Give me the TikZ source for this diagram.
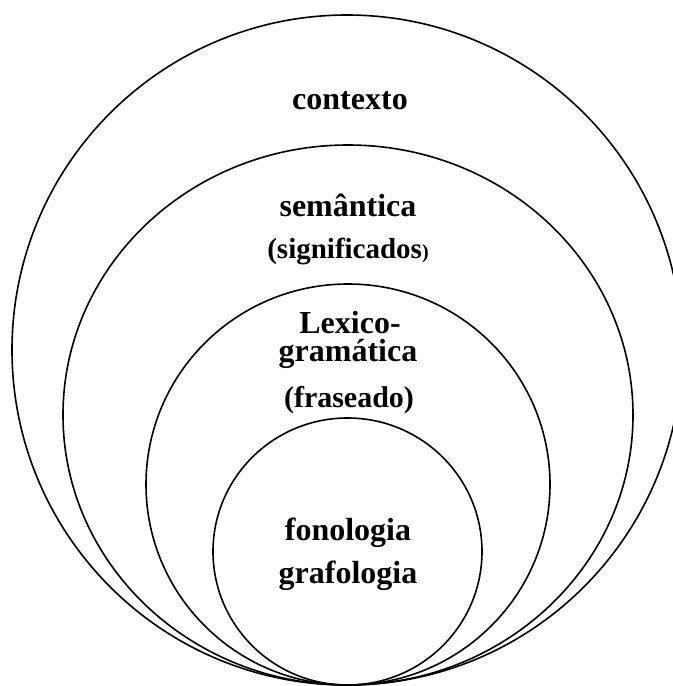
\documentclass[tikz,border=0pt]{standalone}
\usepackage{fontspec}
\setmainfont{Liberation Serif}
\begin{document}
\begin{tikzpicture}[x=1bp,y=-1bp,
  ring/.style={draw=black,line width=1.6bp},
  lbl/.style={anchor=base,inner sep=0pt,font=\fontsize{32bp}{38bp}\selectfont\bfseries},
  sub/.style={lbl,font=\fontsize{30bp}{36bp}\selectfont\bfseries}]
\useasboundingbox (0,0) rectangle (673,686);
\clip (0,0) rectangle (673,686);
\fill[white] (0,0) rectangle (673,686);
% rings, all touching at the bottom
\draw[ring] (347,350) ellipse [x radius=335, y radius=335];
\draw[ring] (348,415) ellipse [x radius=285, y radius=270];
\draw[ring] (348,484.5) ellipse [x radius=202, y radius=200.5];
\draw[ring] (347.5,551.5) ellipse [x radius=134.5, y radius=133.5];
% labels
\node[lbl] (ctx) at (350,110) {contexto};
\node[lbl] (sem) at (348,216) {semântica};
\node[sub,font=\fontsize{29bp}{35bp}\selectfont\bfseries] (sig) at (348,258) {(significados{\fontsize{20bp}{24bp}\selectfont)}};
\node[lbl] (lexgram) at (348,333) {\vtop{\baselineskip=28bp\lineskiplimit=-50bp\lineskip=0bp
  \halign{\hfil#\hfil\cr \hspace{4bp}Lexico-\cr gramática\cr}}};
\node[sub] (fras) at (349,407) {(fraseado)};
\node[lbl] (fon) at (348,540) {fonologia};
\node[lbl] (graf) at (348,583) {grafologia};
\end{tikzpicture}
\end{document}
